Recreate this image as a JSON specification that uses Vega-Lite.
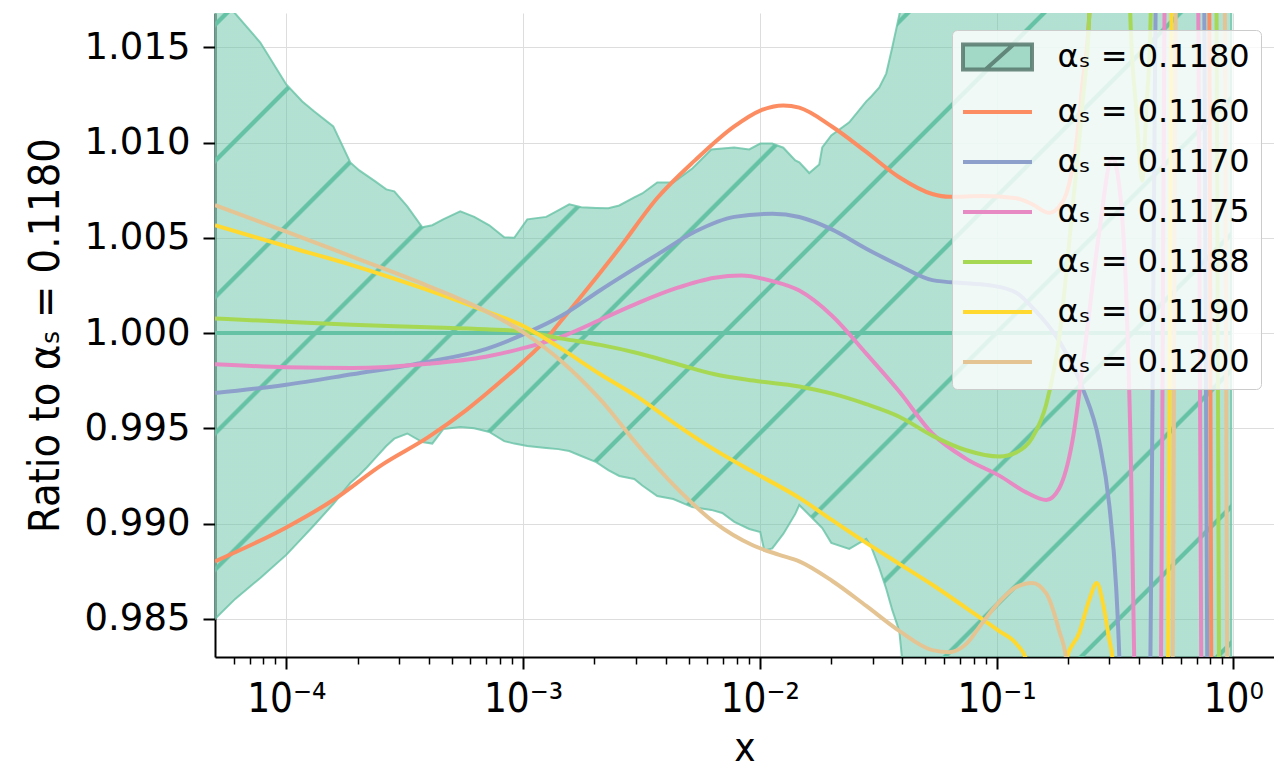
{
  "$schema": "https://vega.github.io/schema/vega-lite/v6.json",
  "width": 1059,
  "height": 644,
  "autosize": {"type": "none"},
  "padding": {"left": 215, "top": 13, "right": 0, "bottom": 111},
  "background": "white",
  "config": {
    "view": {"stroke": null},
    "font": "DejaVu Sans",
    "axis": {
      "domainColor": "#000000",
      "domainWidth": 2,
      "tickColor": "#000000",
      "gridColor": "#dddddd",
      "gridWidth": 1,
      "labelColor": "#000000",
      "titleColor": "#000000",
      "titleFontWeight": "normal",
      "zindex": 1
    }
  },
  "datasets": {
    "band": [
      {"x": 5e-5, "v": 1.018, "lo": 0.985},
      {"x": 6.088e-5, "v": 1.01677, "lo": 0.98605},
      {"x": 7.768e-5, "v": 1.01525, "lo": 0.98715},
      {"x": 1e-4, "v": 1.01305, "lo": 0.98836},
      {"x": 1.1685e-4, "v": 1.01216, "lo": 0.98925},
      {"x": 1.3133e-4, "v": 1.01163, "lo": 0.98993},
      {"x": 1.5795e-4, "v": 1.01085, "lo": 0.99103},
      {"x": 1.8636e-4, "v": 1.00896, "lo": 0.99213},
      {"x": 2.0339e-4, "v": 1.00854, "lo": 0.99255},
      {"x": 2.1984e-4, "v": 1.00825, "lo": 0.99297},
      {"x": 2.376e-4, "v": 1.00796, "lo": 0.99344},
      {"x": 2.6446e-4, "v": 1.00754, "lo": 0.99407},
      {"x": 2.8585e-4, "v": 1.00744, "lo": 0.99446},
      {"x": 3.2441e-4, "v": 1.00665, "lo": 0.99473},
      {"x": 3.7541e-4, "v": 1.00555, "lo": 0.99428},
      {"x": 4.137e-4, "v": 1.00566, "lo": 0.9942},
      {"x": 4.6032e-4, "v": 1.00597, "lo": 0.99496},
      {"x": 5.4302e-4, "v": 1.00639, "lo": 0.99507},
      {"x": 6.2221e-4, "v": 1.0061, "lo": 0.99501},
      {"x": 7.2024e-4, "v": 1.00566, "lo": 0.99481},
      {"x": 8.3291e-4, "v": 1.00503, "lo": 0.99433},
      {"x": 9.1844e-4, "v": 1.005, "lo": 0.9942},
      {"x": 1.0422e-3, "v": 1.00597, "lo": 0.99407},
      {"x": 1.2535e-3, "v": 1.0061, "lo": 0.99397},
      {"x": 1.409e-3, "v": 1.00644, "lo": 0.99391},
      {"x": 1.568e-3, "v": 1.00676, "lo": 0.99381},
      {"x": 1.762e-3, "v": 1.0066, "lo": 0.99355},
      {"x": 2.039e-3, "v": 1.00657, "lo": 0.99323},
      {"x": 2.2914e-3, "v": 1.00655, "lo": 0.99281},
      {"x": 2.5505e-3, "v": 1.0067, "lo": 0.9925},
      {"x": 2.9506e-3, "v": 1.00712, "lo": 0.99234},
      {"x": 3.1894e-3, "v": 1.00733, "lo": 0.992},
      {"x": 3.6897e-3, "v": 1.00791, "lo": 0.99145},
      {"x": 4.3113e-3, "v": 1.00791, "lo": 0.99129},
      {"x": 5.186e-3, "v": 1.00864, "lo": 0.99087},
      {"x": 6.2382e-3, "v": 1.00964, "lo": 0.99072},
      {"x": 6.943e-3, "v": 1.00969, "lo": 0.99056},
      {"x": 7.804e-3, "v": 1.00974, "lo": 0.99009},
      {"x": 9.0283e-3, "v": 1.00964, "lo": 0.98972},
      {"x": 1.0049e-2, "v": 1.00995, "lo": 0.98956},
      {"x": 1.0447e-2, "v": 1.00995, "lo": 0.98859},
      {"x": 1.129e-2, "v": 1.00995, "lo": 0.9887},
      {"x": 1.2569e-2, "v": 1.00973, "lo": 0.98946},
      {"x": 1.4125e-2, "v": 1.00906, "lo": 0.99051},
      {"x": 1.4686e-2, "v": 1.00896, "lo": 0.99098},
      {"x": 1.6183e-2, "v": 1.0084, "lo": 0.99045},
      {"x": 1.7833e-2, "v": 1.00885, "lo": 0.98993},
      {"x": 1.8361e-2, "v": 1.00974, "lo": 0.98977},
      {"x": 2.0045e-2, "v": 1.01037, "lo": 0.98899},
      {"x": 2.3878e-2, "v": 1.01106, "lo": 0.98867},
      {"x": 2.8173e-2, "v": 1.01216, "lo": 0.9892},
      {"x": 2.958e-2, "v": 1.01242, "lo": 0.98878},
      {"x": 3.1978e-2, "v": 1.01289, "lo": 0.98768},
      {"x": 3.4212e-2, "v": 1.01362, "lo": 0.98658},
      {"x": 3.6267e-2, "v": 1.01499, "lo": 0.98547},
      {"x": 3.8836e-2, "v": 1.01668, "lo": 0.98437},
      {"x": 4.0768e-2, "v": 1.018, "lo": 0.9818},
      {"x": 0.98, "v": 1.018, "lo": 0.9818}
    ],
    "center": [
      {"x": 5e-5, "v": 1.0},
      {"x": 0.98, "v": 1.0}
    ],
    "curves": [
      {"series": "αₛ = 0.1160", "x": 5e-5, "v": 0.98802},
      {"series": "αₛ = 0.1160", "x": 1e-4, "v": 0.9898},
      {"series": "αₛ = 0.1160", "x": 1.5795e-4, "v": 0.99124},
      {"series": "αₛ = 0.1160", "x": 2.5437e-4, "v": 0.9931},
      {"series": "αₛ = 0.1160", "x": 3.9792e-4, "v": 0.99454},
      {"series": "αₛ = 0.1160", "x": 5.7578e-4, "v": 0.99596},
      {"series": "αₛ = 0.1160", "x": 8.3696e-4, "v": 0.99764},
      {"series": "αₛ = 0.1160", "x": 1.0024e-3, "v": 0.9985},
      {"series": "αₛ = 0.1160", "x": 1.2128e-3, "v": 0.99949},
      {"series": "αₛ = 0.1160", "x": 1.4607e-3, "v": 1.0007},
      {"series": "αₛ = 0.1160", "x": 1.762e-3, "v": 1.00193},
      {"series": "αₛ = 0.1160", "x": 2.5505e-3, "v": 1.00445},
      {"series": "αₛ = 0.1160", "x": 3.6897e-3, "v": 1.00709},
      {"series": "αₛ = 0.1160", "x": 5.3396e-3, "v": 1.00908},
      {"series": "αₛ = 0.1160", "x": 7.804e-3, "v": 1.01085},
      {"series": "αₛ = 0.1160", "x": 1.0049e-2, "v": 1.01168},
      {"series": "αₛ = 0.1160", "x": 1.2569e-2, "v": 1.01195},
      {"series": "αₛ = 0.1160", "x": 1.4686e-2, "v": 1.01183},
      {"series": "αₛ = 0.1160", "x": 2.0241e-2, "v": 1.01083},
      {"series": "αₛ = 0.1160", "x": 2.8173e-2, "v": 1.00951},
      {"series": "αₛ = 0.1160", "x": 3.8836e-2, "v": 1.00818},
      {"series": "αₛ = 0.1160", "x": 5.3557e-2, "v": 1.0073},
      {"series": "αₛ = 0.1160", "x": 6.3156e-2, "v": 1.00715},
      {"series": "αₛ = 0.1160", "x": 8.7089e-2, "v": 1.00719},
      {"series": "αₛ = 0.1160", "x": 0.12126, "v": 1.00708},
      {"series": "αₛ = 0.1160", "x": 0.14158, "v": 1.00676},
      {"series": "αₛ = 0.1160", "x": 0.16702, "v": 1.00631},
      {"series": "αₛ = 0.1160", "x": 0.18409, "v": 1.00665},
      {"series": "αₛ = 0.1160", "x": 0.19703, "v": 1.0073},
      {"series": "αₛ = 0.1160", "x": 0.21727, "v": 1.00995},
      {"series": "αₛ = 0.1160", "x": 0.2303, "v": 1.01305},
      {"series": "αₛ = 0.1160", "x": 0.24646, "v": 1.01668},
      {"series": "αₛ = 0.1160", "x": 0.25872, "v": 1.025},
      {"series": "αₛ = 0.1160", "x": 0.78414, "v": 1.025},
      {"series": "αₛ = 0.1160", "x": 0.81535, "v": 0.975},
      {"series": "αₛ = 0.1160", "x": 0.98, "v": 0.975},

      {"series": "αₛ = 0.1170", "x": 5e-5, "v": 0.99685},
      {"series": "αₛ = 0.1170", "x": 1e-4, "v": 0.99729},
      {"series": "αₛ = 0.1170", "x": 1.8947e-4, "v": 0.99784},
      {"series": "αₛ = 0.1170", "x": 3.9792e-4, "v": 0.9985},
      {"series": "αₛ = 0.1170", "x": 6.9547e-4, "v": 0.99916},
      {"series": "αₛ = 0.1170", "x": 1.0024e-3, "v": 0.99993},
      {"series": "αₛ = 0.1170", "x": 1.4607e-3, "v": 1.00092},
      {"series": "αₛ = 0.1170", "x": 2.1195e-3, "v": 1.00225},
      {"series": "αₛ = 0.1170", "x": 3.6897e-3, "v": 1.00412},
      {"series": "αₛ = 0.1170", "x": 5.3396e-3, "v": 1.00533},
      {"series": "αₛ = 0.1170", "x": 7.804e-3, "v": 1.0061},
      {"series": "αₛ = 0.1170", "x": 1.129e-2, "v": 1.00626},
      {"series": "αₛ = 0.1170", "x": 1.4686e-2, "v": 1.00609},
      {"series": "αₛ = 0.1170", "x": 2.0241e-2, "v": 1.00543},
      {"series": "αₛ = 0.1170", "x": 2.8173e-2, "v": 1.00443},
      {"series": "αₛ = 0.1170", "x": 3.8836e-2, "v": 1.00355},
      {"series": "αₛ = 0.1170", "x": 5.3557e-2, "v": 1.00278},
      {"series": "αₛ = 0.1170", "x": 7.4515e-2, "v": 1.00261},
      {"series": "αₛ = 0.1170", "x": 9.5951e-2, "v": 1.00249},
      {"series": "αₛ = 0.1170", "x": 0.12126, "v": 1.00212},
      {"series": "αₛ = 0.1170", "x": 0.14158, "v": 1.00135},
      {"series": "αₛ = 0.1170", "x": 0.18409, "v": 0.99958},
      {"series": "αₛ = 0.1170", "x": 0.2303, "v": 0.99715},
      {"series": "αₛ = 0.1170", "x": 0.27164, "v": 0.99429},
      {"series": "αₛ = 0.1170", "x": 0.29942, "v": 0.99098},
      {"series": "αₛ = 0.1170", "x": 0.32036, "v": 0.98658},
      {"series": "αₛ = 0.1170", "x": 0.32985, "v": 0.98312},
      {"series": "αₛ = 0.1170", "x": 0.34295, "v": 0.975},
      {"series": "αₛ = 0.1170", "x": 0.4353, "v": 0.975},
      {"series": "αₛ = 0.1170", "x": 0.48216, "v": 1.025},
      {"series": "αₛ = 0.1170", "x": 0.74324, "v": 1.025},
      {"series": "αₛ = 0.1170", "x": 0.78797, "v": 0.975},
      {"series": "αₛ = 0.1170", "x": 0.98, "v": 0.975},

      {"series": "αₛ = 0.1175", "x": 5e-5, "v": 0.99837},
      {"series": "αₛ = 0.1175", "x": 1e-4, "v": 0.99821},
      {"series": "αₛ = 0.1175", "x": 1.8947e-4, "v": 0.99817},
      {"series": "αₛ = 0.1175", "x": 3.9792e-4, "v": 0.99839},
      {"series": "αₛ = 0.1175", "x": 6.9547e-4, "v": 0.99876},
      {"series": "αₛ = 0.1175", "x": 1.0024e-3, "v": 0.99921},
      {"series": "αₛ = 0.1175", "x": 1.4607e-3, "v": 0.99982},
      {"series": "αₛ = 0.1175", "x": 2.1195e-3, "v": 1.0007},
      {"series": "αₛ = 0.1175", "x": 3.0677e-3, "v": 1.00159},
      {"series": "αₛ = 0.1175", "x": 4.4389e-3, "v": 1.00236},
      {"series": "αₛ = 0.1175", "x": 6.4543e-3, "v": 1.00291},
      {"series": "αₛ = 0.1175", "x": 8.3521e-3, "v": 1.00302},
      {"series": "αₛ = 0.1175", "x": 1.129e-2, "v": 1.00273},
      {"series": "αₛ = 0.1175", "x": 1.4686e-2, "v": 1.00223},
      {"series": "αₛ = 0.1175", "x": 2.0241e-2, "v": 1.0009},
      {"series": "αₛ = 0.1175", "x": 2.8173e-2, "v": 0.99892},
      {"series": "αₛ = 0.1175", "x": 3.8836e-2, "v": 0.99693},
      {"series": "αₛ = 0.1175", "x": 5.3557e-2, "v": 0.99473},
      {"series": "αₛ = 0.1175", "x": 7.4515e-2, "v": 0.9934},
      {"series": "αₛ = 0.1175", "x": 0.10271, "v": 0.99252},
      {"series": "αₛ = 0.1175", "x": 0.13354, "v": 0.99164},
      {"series": "αₛ = 0.1175", "x": 0.16222, "v": 0.99124},
      {"series": "αₛ = 0.1175", "x": 0.18409, "v": 0.99186},
      {"series": "αₛ = 0.1175", "x": 0.20891, "v": 0.99429},
      {"series": "αₛ = 0.1175", "x": 0.23937, "v": 0.9998},
      {"series": "αₛ = 0.1175", "x": 0.27164, "v": 1.00532},
      {"series": "αₛ = 0.1175", "x": 0.30829, "v": 1.00922},
      {"series": "αₛ = 0.1175", "x": 0.32985, "v": 1.00774},
      {"series": "αₛ = 0.1175", "x": 0.3531, "v": 1.00201},
      {"series": "αₛ = 0.1175", "x": 0.36959, "v": 0.99318},
      {"series": "αₛ = 0.1175", "x": 0.38166, "v": 0.98285},
      {"series": "αₛ = 0.1175", "x": 0.39295, "v": 0.975},
      {"series": "αₛ = 0.1175", "x": 0.48691, "v": 0.975},
      {"series": "αₛ = 0.1175", "x": 0.52119, "v": 1.025},
      {"series": "αₛ = 0.1175", "x": 0.70122, "v": 1.025},
      {"series": "αₛ = 0.1175", "x": 0.74324, "v": 0.975},
      {"series": "αₛ = 0.1175", "x": 0.98, "v": 0.975},

      {"series": "αₛ = 0.1188", "x": 5e-5, "v": 1.00077},
      {"series": "αₛ = 0.1188", "x": 1e-4, "v": 1.00059},
      {"series": "αₛ = 0.1188", "x": 1.8947e-4, "v": 1.00044},
      {"series": "αₛ = 0.1188", "x": 3.9792e-4, "v": 1.00031},
      {"series": "αₛ = 0.1188", "x": 6.9547e-4, "v": 1.0002},
      {"series": "αₛ = 0.1188", "x": 1.0024e-3, "v": 1.00009},
      {"series": "αₛ = 0.1188", "x": 1.4607e-3, "v": 0.99971},
      {"series": "αₛ = 0.1188", "x": 2.1195e-3, "v": 0.99938},
      {"series": "αₛ = 0.1188", "x": 3.0677e-3, "v": 0.99894},
      {"series": "αₛ = 0.1188", "x": 4.4389e-3, "v": 0.99839},
      {"series": "αₛ = 0.1188", "x": 6.4543e-3, "v": 0.99784},
      {"series": "αₛ = 0.1188", "x": 9.3867e-3, "v": 0.99751},
      {"series": "αₛ = 0.1188", "x": 1.4686e-2, "v": 0.9972},
      {"series": "αₛ = 0.1188", "x": 2.0241e-2, "v": 0.99682},
      {"series": "αₛ = 0.1188", "x": 2.8173e-2, "v": 0.99627},
      {"series": "αₛ = 0.1188", "x": 3.8836e-2, "v": 0.99561},
      {"series": "αₛ = 0.1188", "x": 5.3557e-2, "v": 0.99462},
      {"series": "αₛ = 0.1188", "x": 7.4515e-2, "v": 0.99385},
      {"series": "αₛ = 0.1188", "x": 0.10271, "v": 0.99352},
      {"series": "αₛ = 0.1188", "x": 0.12126, "v": 0.99374},
      {"series": "αₛ = 0.1188", "x": 0.14158, "v": 0.99451},
      {"series": "αₛ = 0.1188", "x": 0.16222, "v": 0.99627},
      {"series": "αₛ = 0.1188", "x": 0.18409, "v": 0.9998},
      {"series": "αₛ = 0.1188", "x": 0.20891, "v": 1.00642},
      {"series": "αₛ = 0.1188", "x": 0.2303, "v": 1.01194},
      {"series": "αₛ = 0.1188", "x": 0.24646, "v": 1.01668},
      {"series": "αₛ = 0.1188", "x": 0.25622, "v": 1.025},
      {"series": "αₛ = 0.1188", "x": 0.35655, "v": 1.025},
      {"series": "αₛ = 0.1188", "x": 0.36715, "v": 1.01677},
      {"series": "αₛ = 0.1188", "x": 0.38958, "v": 1.01168},
      {"series": "αₛ = 0.1188", "x": 0.41263, "v": 1.00801},
      {"series": "αₛ = 0.1188", "x": 0.42901, "v": 1.01168},
      {"series": "αₛ = 0.1188", "x": 0.4482, "v": 1.01677},
      {"series": "αₛ = 0.1188", "x": 0.45924, "v": 1.025},
      {"series": "αₛ = 0.1188", "x": 0.83927, "v": 1.025},
      {"series": "αₛ = 0.1188", "x": 0.88117, "v": 0.975},
      {"series": "αₛ = 0.1188", "x": 0.98, "v": 0.975},

      {"series": "αₛ = 0.1190", "x": 5e-5, "v": 1.00566},
      {"series": "αₛ = 0.1190", "x": 1e-4, "v": 1.00456},
      {"series": "αₛ = 0.1190", "x": 1.8947e-4, "v": 1.00357},
      {"series": "αₛ = 0.1190", "x": 3.9792e-4, "v": 1.00225},
      {"series": "αₛ = 0.1190", "x": 6.9547e-4, "v": 1.00115},
      {"series": "αₛ = 0.1190", "x": 1.0024e-3, "v": 1.00037},
      {"series": "αₛ = 0.1190", "x": 1.4607e-3, "v": 0.99916},
      {"series": "αₛ = 0.1190", "x": 2.1195e-3, "v": 0.99784},
      {"series": "αₛ = 0.1190", "x": 3.0677e-3, "v": 0.99663},
      {"series": "αₛ = 0.1190", "x": 4.4389e-3, "v": 0.9952},
      {"series": "αₛ = 0.1190", "x": 6.4543e-3, "v": 0.99387},
      {"series": "αₛ = 0.1190", "x": 9.3867e-3, "v": 0.99271},
      {"series": "αₛ = 0.1190", "x": 1.4686e-2, "v": 0.99135},
      {"series": "αₛ = 0.1190", "x": 2.0241e-2, "v": 0.99018},
      {"series": "αₛ = 0.1190", "x": 2.8173e-2, "v": 0.98899},
      {"series": "αₛ = 0.1190", "x": 3.8836e-2, "v": 0.98789},
      {"series": "αₛ = 0.1190", "x": 5.3557e-2, "v": 0.98679},
      {"series": "αₛ = 0.1190", "x": 7.4515e-2, "v": 0.98557},
      {"series": "αₛ = 0.1190", "x": 0.10271, "v": 0.98436},
      {"series": "αₛ = 0.1190", "x": 0.12126, "v": 0.98369},
      {"series": "αₛ = 0.1190", "x": 0.13354, "v": 0.98285},
      {"series": "αₛ = 0.1190", "x": 0.13884, "v": 0.979},
      {"series": "αₛ = 0.1190", "x": 0.1877, "v": 0.979},
      {"series": "αₛ = 0.1190", "x": 0.19703, "v": 0.98285},
      {"series": "αₛ = 0.1190", "x": 0.2237, "v": 0.98427},
      {"series": "αₛ = 0.1190", "x": 0.24646, "v": 0.986},
      {"series": "αₛ = 0.1190", "x": 0.26509, "v": 0.98689},
      {"series": "αₛ = 0.1190", "x": 0.2824, "v": 0.98574},
      {"series": "αₛ = 0.1190", "x": 0.29942, "v": 0.9839},
      {"series": "αₛ = 0.1190", "x": 0.30829, "v": 0.98301},
      {"series": "αₛ = 0.1190", "x": 0.31726, "v": 0.975},
      {"series": "αₛ = 0.1190", "x": 0.52119, "v": 0.975},
      {"series": "αₛ = 0.1190", "x": 0.55781, "v": 1.025},
      {"series": "αₛ = 0.1190", "x": 0.98, "v": 1.025},

      {"series": "αₛ = 0.1200", "x": 5e-5, "v": 1.00672},
      {"series": "αₛ = 0.1200", "x": 1e-4, "v": 1.00533},
      {"series": "αₛ = 0.1200", "x": 1.8947e-4, "v": 1.00401},
      {"series": "αₛ = 0.1200", "x": 3.9792e-4, "v": 1.00247},
      {"series": "αₛ = 0.1200", "x": 6.9547e-4, "v": 1.00115},
      {"series": "αₛ = 0.1200", "x": 1.0024e-3, "v": 1.00004},
      {"series": "αₛ = 0.1200", "x": 1.4607e-3, "v": 0.9985},
      {"series": "αₛ = 0.1200", "x": 2.1195e-3, "v": 0.99652},
      {"series": "αₛ = 0.1200", "x": 3.0677e-3, "v": 0.99409},
      {"series": "αₛ = 0.1200", "x": 4.4389e-3, "v": 0.99189},
      {"series": "αₛ = 0.1200", "x": 6.4543e-3, "v": 0.99005},
      {"series": "αₛ = 0.1200", "x": 9.3867e-3, "v": 0.98885},
      {"series": "αₛ = 0.1200", "x": 1.209e-2, "v": 0.98836},
      {"series": "αₛ = 0.1200", "x": 1.4686e-2, "v": 0.98802},
      {"series": "αₛ = 0.1200", "x": 2.0241e-2, "v": 0.98699},
      {"series": "αₛ = 0.1200", "x": 2.8173e-2, "v": 0.98568},
      {"series": "αₛ = 0.1200", "x": 3.8836e-2, "v": 0.98437},
      {"series": "αₛ = 0.1200", "x": 5.3557e-2, "v": 0.98336},
      {"series": "αₛ = 0.1200", "x": 6.3156e-2, "v": 0.98325},
      {"series": "αₛ = 0.1200", "x": 7.4515e-2, "v": 0.98369},
      {"series": "αₛ = 0.1200", "x": 8.7089e-2, "v": 0.98479},
      {"series": "αₛ = 0.1200", "x": 0.10271, "v": 0.98589},
      {"series": "αₛ = 0.1200", "x": 0.12126, "v": 0.98668},
      {"series": "αₛ = 0.1200", "x": 0.14158, "v": 0.98689},
      {"series": "αₛ = 0.1200", "x": 0.16222, "v": 0.98634},
      {"series": "αₛ = 0.1200", "x": 0.18409, "v": 0.98436},
      {"series": "αₛ = 0.1200", "x": 0.197, "v": 0.98285},
      {"series": "αₛ = 0.1200", "x": 0.20288, "v": 0.975},
      {"series": "αₛ = 0.1200", "x": 0.54704, "v": 0.975},
      {"series": "αₛ = 0.1200", "x": 0.58005, "v": 1.025},
      {"series": "αₛ = 0.1200", "x": 0.91185, "v": 1.025},
      {"series": "αₛ = 0.1200", "x": 0.95257, "v": 0.975},
      {"series": "αₛ = 0.1200", "x": 0.98, "v": 0.975}
    ]
  },
  "encoding": {
    "x": {
      "field": "x",
      "type": "quantitative",
      "title": "x",
      "scale": {"type": "log", "domain": [5e-5, 1.486], "nice": false},
      "axis": {
        "values": [6e-5, 7e-5, 8e-5, 9e-5, 1e-4, 2e-4, 3e-4, 4e-4, 5e-4, 6e-4, 7e-4, 8e-4, 9e-4, 1e-3, 2e-3, 3e-3, 4e-3, 5e-3, 6e-3, 7e-3, 8e-3, 9e-3, 1e-2, 2e-2, 3e-2, 4e-2, 5e-2, 6e-2, 7e-2, 8e-2, 9e-2, 0.1, 0.2, 0.3, 0.4, 0.5, 0.6, 0.7, 0.8, 0.9, 1],
        "labelExpr": "datum.value == 0.0001 ? '10⁻⁴' : datum.value == 0.001 ? '10⁻³' : datum.value == 0.01 ? '10⁻²' : datum.value == 0.1 ? '10⁻¹' : datum.value == 1 ? '10⁰' : ''",
        "labelFont": "DejaVu Sans Condensed",
        "labelFontSize": 40,
        "labelPadding": 10,
        "labelOverlap": false,
        "labelFlush": false,
        "tickSize": {"condition": {"test": "indexof([0.0001, 0.001, 0.01, 0.1, 1], datum.value) >= 0", "value": 12}, "value": 7},
        "tickWidth": {"condition": {"test": "indexof([0.0001, 0.001, 0.01, 0.1, 1], datum.value) >= 0", "value": 2}, "value": 1.5},
        "gridOpacity": {"condition": {"test": "indexof([0.0001, 0.001, 0.01, 0.1, 1], datum.value) >= 0", "value": 1}, "value": 0},
        "titleFont": "DejaVu Sans Condensed",
        "titleFontSize": 40,
        "titlePadding": 9
      }
    },
    "y": {
      "field": "v",
      "type": "quantitative",
      "title": "Ratio to αₛ = 0.1180",
      "scale": {"domain": [0.983, 1.0168], "nice": false, "zero": false},
      "axis": {
        "values": [0.985, 0.99, 0.995, 1.0, 1.005, 1.01, 1.015],
        "format": ".3f",
        "labelFont": "DejaVu Sans",
        "labelFontSize": 37,
        "labelPadding": 13,
        "tickSize": 12,
        "tickWidth": 2,
        "titleFont": "DejaVu Sans Condensed",
        "titleFontSize": 43,
        "titlePadding": 17
      }
    }
  },
  "layer": [
    {
      "data": {"name": "band"},
      "mark": {
        "type": "area",
        "clip": true,
        "interpolate": "linear",
        "opacity": 1,
        "fillOpacity": 1,
        "stroke": "#66c2a5",
        "strokeWidth": 2,
        "strokeOpacity": 0.8,
        "fill": {
          "gradient": "linear",
          "x1": 0, "y1": 0, "x2": 1.25, "y2": 0.84842,
          "stops": [
            {"offset": 0, "color": "rgba(102,194,165,0.5)"},
            {"offset": 0.0165, "color": "rgba(102,194,165,0.5)"},
            {"offset": 0.0176, "color": "#66c2a5"},
            {"offset": 0.0198, "color": "#66c2a5"},
            {"offset": 0.0209, "color": "rgba(102,194,165,0.5)"},
            {"offset": 0.0899, "color": "rgba(102,194,165,0.5)"},
            {"offset": 0.091, "color": "#66c2a5"},
            {"offset": 0.0932, "color": "#66c2a5"},
            {"offset": 0.0943, "color": "rgba(102,194,165,0.5)"},
            {"offset": 0.1633, "color": "rgba(102,194,165,0.5)"},
            {"offset": 0.1644, "color": "#66c2a5"},
            {"offset": 0.1666, "color": "#66c2a5"},
            {"offset": 0.1677, "color": "rgba(102,194,165,0.5)"},
            {"offset": 0.2367, "color": "rgba(102,194,165,0.5)"},
            {"offset": 0.2378, "color": "#66c2a5"},
            {"offset": 0.24, "color": "#66c2a5"},
            {"offset": 0.2411, "color": "rgba(102,194,165,0.5)"},
            {"offset": 0.3101, "color": "rgba(102,194,165,0.5)"},
            {"offset": 0.3112, "color": "#66c2a5"},
            {"offset": 0.3134, "color": "#66c2a5"},
            {"offset": 0.3145, "color": "rgba(102,194,165,0.5)"},
            {"offset": 0.3835, "color": "rgba(102,194,165,0.5)"},
            {"offset": 0.3846, "color": "#66c2a5"},
            {"offset": 0.3868, "color": "#66c2a5"},
            {"offset": 0.3879, "color": "rgba(102,194,165,0.5)"},
            {"offset": 0.4569, "color": "rgba(102,194,165,0.5)"},
            {"offset": 0.458, "color": "#66c2a5"},
            {"offset": 0.4602, "color": "#66c2a5"},
            {"offset": 0.4613, "color": "rgba(102,194,165,0.5)"},
            {"offset": 0.5303, "color": "rgba(102,194,165,0.5)"},
            {"offset": 0.5314, "color": "#66c2a5"},
            {"offset": 0.5336, "color": "#66c2a5"},
            {"offset": 0.5347, "color": "rgba(102,194,165,0.5)"},
            {"offset": 0.6037, "color": "rgba(102,194,165,0.5)"},
            {"offset": 0.6048, "color": "#66c2a5"},
            {"offset": 0.607, "color": "#66c2a5"},
            {"offset": 0.6081, "color": "rgba(102,194,165,0.5)"},
            {"offset": 0.6771, "color": "rgba(102,194,165,0.5)"},
            {"offset": 0.6782, "color": "#66c2a5"},
            {"offset": 0.6804, "color": "#66c2a5"},
            {"offset": 0.6815, "color": "rgba(102,194,165,0.5)"},
            {"offset": 0.7505, "color": "rgba(102,194,165,0.5)"},
            {"offset": 0.7516, "color": "#66c2a5"},
            {"offset": 0.7538, "color": "#66c2a5"},
            {"offset": 0.7549, "color": "rgba(102,194,165,0.5)"},
            {"offset": 0.8239, "color": "rgba(102,194,165,0.5)"},
            {"offset": 0.825, "color": "#66c2a5"},
            {"offset": 0.8272, "color": "#66c2a5"},
            {"offset": 0.8283, "color": "rgba(102,194,165,0.5)"},
            {"offset": 0.8973, "color": "rgba(102,194,165,0.5)"},
            {"offset": 0.8984, "color": "#66c2a5"},
            {"offset": 0.9006, "color": "#66c2a5"},
            {"offset": 0.9017, "color": "rgba(102,194,165,0.5)"},
            {"offset": 1, "color": "rgba(102,194,165,0.5)"}
          ]
        }
      },
      "encoding": {
        "y2": {"field": "lo"}
      }
    },
    {
      "data": {"name": "center"},
      "mark": {"type": "line", "color": "#66c2a5", "strokeWidth": 4, "clip": true},
      "encoding": {}
    },
    {
      "data": {"name": "curves"},
      "mark": {"type": "line", "strokeWidth": 4, "clip": true, "interpolate": "monotone"},
      "encoding": {
        "color": {
          "field": "series",
          "type": "nominal",
          "scale": {
            "domain": ["αₛ = 0.1180", "αₛ = 0.1160", "αₛ = 0.1170", "αₛ = 0.1175", "αₛ = 0.1188", "αₛ = 0.1190", "αₛ = 0.1200"],
            "range": ["#56786c", "#fc8d62", "#8da0cb", "#e78ac3", "#a6d854", "#ffd92f", "#e5c494"]
          },
          "legend": {
            "orient": "none",
            "legendX": 737,
            "legendY": 17,
            "title": null,
            "padding": 11,
            "fillColor": "rgba(255,255,255,0.8)",
            "strokeColor": "#cccccc",
            "cornerRadius": 5,
            "symbolType": "M-6.9,0H6.9",
            "symbolSize": 100,
            "symbolStrokeWidth": 4,
            "symbolOffset": 18.5,
            "labelFont": "DejaVu Sans",
            "labelFontSize": 32,
            "labelColor": "#000000",
            "labelOffset": 44,
            "labelLimit": 600,
            "rowPadding": 18,
            "encode": {
              "symbols": {
                "update": {
                  "shape": {"signal": "datum.value === 'αₛ = 0.1180' ? 'M-6.9,-2.5H6.9V2.5H-6.9Z M-2.4,2.5L3.2,-2.5' : 'M-6.9,0H6.9'"},
                  "fill": {"signal": "datum.value === 'αₛ = 0.1180' ? '#a2d8c6' : 'transparent'"},
                  "strokeOpacity": {"signal": "datum.value === 'αₛ = 0.1180' ? 0.85 : 1"}
                }
              }
            }
          }
        }
      }
    }
  ]
}
